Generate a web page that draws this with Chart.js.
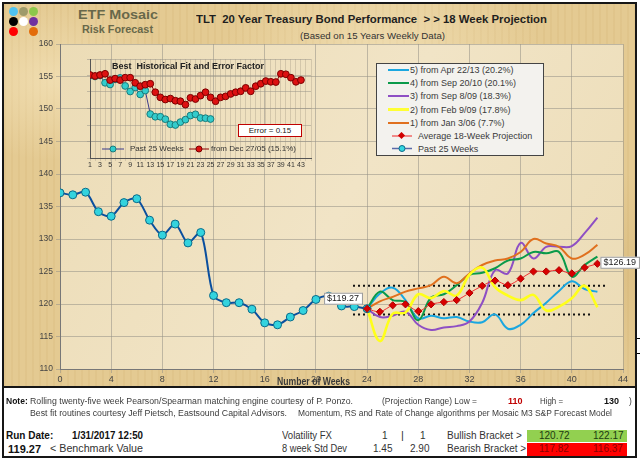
<!DOCTYPE html>
<html>
<head>
<meta charset="utf-8">
<script src="https://cdn.jsdelivr.net/npm/chart.js@4.4.0/dist/chart.umd.min.js"></script>
<style>
body { margin: 0; background: #fff; font-family: "Liberation Sans", Arial, sans-serif; }
#page { position: relative; width: 640px; height: 461px; overflow: hidden; background: #fff; }
#panel {
  position: absolute; left: 2px; top: 2px; width: 631px; height: 384px;
  border: 2px solid #161616;
  background:
    radial-gradient(ellipse 120px 80px at 8% 20%, rgba(250,236,200,0.55), transparent),
    radial-gradient(ellipse 160px 90px at 60% 12%, rgba(250,238,205,0.5), transparent),
    radial-gradient(ellipse 140px 100px at 95% 70%, rgba(205,170,105,0.35), transparent),
    repeating-linear-gradient(90deg, rgba(190,150,80,0.10) 0 2px, transparent 2px 7px),
    #e4ca92;
}
#table {
  position: absolute; left: 2px; top: 386px; width: 631px; height: 68px;
  border: 2px solid #161616; background: #fff;
}
canvas { position: absolute; }
.t { position: absolute; white-space: nowrap; line-height: 1; transform-origin: left center; }
.dot { position: absolute; width: 9px; height: 9px; border-radius: 50%; }
#legend {
  position: absolute; left: 376px; top: 63px; width: 166px; height: 91px;
  border: 1px solid #444; background: #f3f2ee;
}
.lg { position: absolute; left: 0; height: 12px; width: 166px; font-size: 9px; color: #3a3a3a; }
.lg .sw { position: absolute; left: 11px; top: 5px; width: 21px; height: 2px; }
.lg span { position: absolute; top: 1px; }
.small { font-size: 8.5px; color: #3b3b3b; }
.cell { position: absolute; font-size: 10px; }
</style>
</head>
<body>
<div id="page">
  <div id="panel"></div>
  <div id="table"></div>

  <!-- logo dots -->
  <div class="dot" style="left:9px;top:7px;background:#4fc3f0"></div>
  <div class="dot" style="left:19px;top:7px;background:#9e9a6a"></div>
  <div class="dot" style="left:29px;top:7px;background:#8cc84b"></div>
  <div class="dot" style="left:9px;top:17px;background:#000"></div>
  <div class="dot" style="left:19px;top:17px;background:#fff"></div>
  <div class="dot" style="left:29px;top:17px;background:#7030a0"></div>
  <div class="dot" style="left:9px;top:27px;background:#f00"></div>
  <div class="dot" style="left:29px;top:27px;background:#e36c0a"></div>

  <div class="t" data-w="80" style="left:78px;top:8px;font-size:13.5px;font-weight:bold;color:#68684a">ETF Mosaic</div>
  <div class="t" data-w="71" style="left:82px;top:25px;font-size:10px;font-weight:bold;color:#68684a">Risk Forecast</div>
  <div class="t" data-w="351" style="left:196px;top:14px;font-size:11.5px;font-weight:bold;color:#1e1e1e">TLT&nbsp; 20 Year Treasury Bond Performance&nbsp; &gt; &gt; 18 Week Projection</div>
  <div class="t" data-w="145" style="left:300px;top:32px;font-size:8.5px;color:#333">(Based on 15 Years Weekly Data)</div>

  <canvas id="main" width="640" height="388" style="left:0;top:0"></canvas>
  <canvas id="inset" width="236" height="118" style="left:80px;top:52px"></canvas>

  <div class="t" style="left:112px;top:62px;font-size:9px;font-weight:bold;color:#222">Best&nbsp; Historical Fit and Error Factor</div>
  <div class="t" style="left:238px;top:124px;width:62px;height:11px;border:1.5px solid #c00000;background:#fff;font-size:8px;color:#222;text-align:center;line-height:11px">Error = 0.15</div>
  <svg style="position:absolute;left:102px;top:145px" width="22" height="8"><line x1="0" y1="4" x2="22" y2="4" stroke="#3a3a8a" stroke-width="1"/><circle cx="11" cy="4" r="3" fill="#33cccc" stroke="#1a7a7a"/></svg>
  <div class="t" style="left:130px;top:145px;font-size:8px;color:#333">Past 25 Weeks</div>
  <svg style="position:absolute;left:189px;top:145px" width="20" height="8"><line x1="0" y1="4" x2="20" y2="4" stroke="#8b0000" stroke-width="1"/><circle cx="10" cy="4" r="3" fill="#dd1111" stroke="#7a0000"/></svg>
  <div class="t" style="left:211px;top:145px;font-size:8px;color:#333">from Dec 27/05 (15.1%)</div>

  <div id="legend"></div>

  <div class="t" data-w="73" style="left:277px;top:377px;font-size:10px;font-weight:bold;color:#3a3a3a">Number of Weeks</div>
  <div style="position:absolute;left:637px;top:338px;width:3px;height:1px;background:#000"></div>
  <div style="position:absolute;left:637px;top:353px;width:3px;height:1px;background:#000"></div>

  <!-- bottom table -->
  <div class="t" style="left:6px;top:397px;font-size:8.5px;font-weight:bold;color:#111">Note:</div>
  <div class="t small" data-w="323" style="left:30px;top:397px">Rolling twenty-five week Pearson/Spearman matching engine courtesy of P. Ponzo.</div>
  <div class="t small" data-w="95" style="left:382px;top:397px">(Projection Range) Low =</div>
  <div class="t" style="left:508px;top:397px;font-size:9px;font-weight:bold;color:#c00000">110</div>
  <div class="t small" data-w="23" style="left:540px;top:397px">High =</div>
  <div class="t" style="left:604px;top:397px;font-size:9px;font-weight:bold;color:#111">130</div>
  <div class="t small" style="left:629px;top:397px">)</div>
  <div class="t small" data-w="257" style="left:30px;top:409px">Best fit routines courtesy Jeff Pietsch, Eastsound Capital Advisors.</div>
  <div class="t small" data-w="314" style="left:298px;top:409px">Momentum, RS and Rate of Change algorithms per Mosaic M3 S&amp;P Forecast Model</div>

  <div class="t" style="left:6px;top:431px;font-size:10px;font-weight:bold;color:#111">Run Date:</div>
  <div class="t" data-w="71" style="left:72px;top:431px;font-size:10px;font-weight:bold;color:#111">1/31/2017 12:50</div>
  <div class="t" style="left:8px;top:444px;font-size:11px;font-weight:bold;color:#111">119.27</div>
  <div class="t" data-w="93" style="left:50px;top:444px;font-size:10px;color:#333">&lt; Benchmark Value</div>
  <div class="t" data-w="50" style="left:282px;top:431px;font-size:10px;color:#333">Volatility FX</div>
  <div class="t" style="left:382px;top:431px;font-size:10px;color:#333">1</div>
  <div class="t" style="left:401px;top:430px;font-size:11px;color:#333">|</div>
  <div class="t" style="left:420px;top:431px;font-size:10px;color:#333">1</div>
  <div class="t" data-w="65" style="left:282px;top:444px;font-size:10px;color:#333">8 week Std Dev</div>
  <div class="t" style="left:373px;top:444px;font-size:10px;color:#333">1.45</div>
  <div class="t" style="left:410px;top:444px;font-size:10px;color:#333">2.90</div>
  <div class="t" style="left:447px;top:431px;font-size:10px;color:#333">Bullish Bracket &gt;</div>
  <div class="t" style="left:447px;top:444px;font-size:10px;color:#333">Bearish Bracket &gt;</div>
  <div class="cell" style="left:527px;top:430px;width:100px;height:12px;background:#92d050"></div>
  <div class="cell" style="left:527px;top:443px;width:100px;height:13px;background:#ff0000"></div>
  <div class="t" style="left:539px;top:431px;font-size:10px;color:#1c3a10">120.72</div>
  <div class="t" style="left:593px;top:431px;font-size:10px;color:#1c3a10">122.17</div>
  <div class="t" style="left:539px;top:444px;font-size:10px;color:#8a0000">117.82</div>
  <div class="t" style="left:593px;top:444px;font-size:10px;color:#8a0000">116.37</div>
</div>

<script>
// past 25 weeks (week 0..24)
const pastWeeks = [0, 1, 2, 3, 4, 5, 6, 7, 8, 9, 10, 11, 12, 13, 14, 15, 16, 17, 18, 19, 20, 21, 22, 23, 24];
const pastPrice = [137.1, 136.8, 137.2, 134.2, 133.5, 135.6, 136.2, 132.9, 130.6, 132.3, 129.4, 131.0, 121.3,
                   120.2, 120.2, 119.2, 117.1, 116.8, 118.0, 119.0, 120.7, 121.2, 119.7, 119.6, 119.27];

// projection weeks 24..42
const projWeeks = [24, 25, 26, 27, 28, 29, 30, 31, 32, 33, 34, 35, 36, 37, 38, 39, 40, 41, 42];
const proj5 = [119.27, 121.6, 122.5, 120.6, 117.8, 118.2, 117.8, 118.0, 117.3, 117.2, 118.4, 116.2, 116.8, 118.6, 120.2, 122.0, 123.5, 122.3, 121.9];
const proj4 = [119.27, 121.9, 120.6, 120.3, 117.5, 121.0, 121.5, 122.9, 124.5, 124.8, 125.5, 126.7, 127.0, 128.0, 127.8, 128.0, 124.2, 126.0, 127.3];
const proj3 = [119.27, 118.0, 118.2, 118.8, 116.8, 116.0, 116.4, 116.6, 117.3, 120.2, 125.2, 124.7, 129.4, 127.0, 128.8, 128.8, 128.9, 130.9, 133.3];
const proj2 = [119.27, 114.3, 118.5, 118.7, 121.5, 120.9, 122.0, 121.3, 124.5, 125.6, 122.6, 121.3, 120.6, 121.4, 119.0, 119.6, 120.9, 122.8, 119.5];
const proj1 = [119.27, 120.4, 121.1, 121.9, 122.4, 122.9, 124.2, 123.2, 124.7, 126.0, 126.7, 127.0, 128.0, 130.0, 129.3, 128.8, 127.0, 127.6, 129.1];
const avgProj = [119.27, 118.8, 119.8, 119.95, 118.9, 119.95, 120.3, 120.6, 121.7, 122.8, 123.6, 122.9, 123.9, 125.0, 125.0, 125.2, 124.7, 125.6, 126.19];

// dotted range lines
const upperBandWeeks = [22.9, 42.7];
const upperBand = [122.8, 122.8];
const lowerBandWeeks = [22.9, 41.6];
const lowerBand = [118.4, 118.4];

// inset: best historical fit (weeks 1..43)
const fitWeeks = [1, 2, 3, 4, 5, 6, 7, 8, 9, 10, 11, 12, 13, 14, 15, 16, 17, 18, 19, 20, 21, 22,
                  23, 24, 25, 26, 27, 28, 29, 30, 31, 32, 33, 34, 35, 36, 37, 38, 39, 40, 41, 42, 43];
const fitPrice = [137.4, 137.0, 137.4, 137.9, 135.3, 135.9, 135.3, 136.3, 136.3, 134.2, 132.8, 133.4, 133.8,
                  130.3, 128.2, 127.3, 127.7, 126.8, 126.6, 125.2, 128.0, 127.5, 128.9, 130.3, 128.2, 126.6,
                  128.2, 128.6, 129.6, 130.3, 130.7, 132.1, 130.7, 132.8, 133.8, 134.9, 134.6, 134.5, 137.9,
                  137.7, 136.3, 134.6, 135.3];

const yTicks = [110, 115, 120, 125, 130, 135, 140, 145, 150, 155, 160];
const xTicks = [0, 4, 8, 12, 16, 20, 24, 28, 32, 36, 40, 44];

const legendItems = [
  { label: "5)  from Apr 22/13 (20.2%)", color: "#1aa7e0" },
  { label: "4)  from Sep 20/10 (20.1%)", color: "#0a9a4a" },
  { label: "3)  from Sep 8/09 (18.3%)", color: "#8e4fc4" },
  { label: "2)  from Feb 9/09 (17.8%)", color: "#ffff33" },
  { label: "1)  from Jan 3/06 (7.7%)", color: "#e0701e" }
];

function pts(xs, ys) {
    return xs.map((x, i) => ({ x: x, y: ys[i] }));
}

// stretch text to the widths measured on the picture
document.querySelectorAll("[data-w]").forEach(el => {
    const w = el.getBoundingClientRect().width;
    el.style.transform = "scaleX(" + (parseFloat(el.dataset.w) / w) + ")";
});

// build the legend box
const legend = document.getElementById("legend");
legendItems.forEach((item, i) => {
    const row = document.createElement("div");
    row.className = "lg";
    row.style.top = (i * 13.2) + "px";
    row.innerHTML = '<div class="sw" style="background:' + item.color + (item.color === "#ffff33" ? ';height:3px;top:4px' : '') +
        '"></div><span style="left:33px">' + item.label + '</span>';
    legend.appendChild(row);
});
const avgRow = document.createElement("div");
avgRow.className = "lg";
avgRow.style.top = (5 * 13.2) + "px";
avgRow.innerHTML = '<svg style="position:absolute;left:15px;top:2px" width="20" height="8"><line x1="0" y1="4" x2="20" y2="4" stroke="#ee2222" stroke-width="1"/><rect x="7" y="1" width="5" height="5" transform="rotate(45 9.5 3.5)" fill="#d00000"/></svg><span style="left:41px">Average 18-Week Projection</span>';
legend.appendChild(avgRow);
const pastRow = document.createElement("div");
pastRow.className = "lg";
pastRow.style.top = (6 * 13.2) + "px";
pastRow.innerHTML = '<svg style="position:absolute;left:15px;top:1px" width="20" height="9"><line x1="0" y1="4.5" x2="20" y2="4.5" stroke="#5a6aa8" stroke-width="1.5"/><circle cx="10" cy="4.5" r="3" fill="#33d6e0" stroke="#0a6b8a"/></svg><span style="left:41px">Past 25 Weeks</span>';
legend.appendChild(pastRow);

// light plot area fill
const plotBg = {
    id: "plotBg",
    beforeDraw(chart, args, opts) {
        const { ctx, chartArea: a } = chart;
        ctx.save();
        const g = ctx.createLinearGradient(a.left, a.top, a.right, a.bottom);
        g.addColorStop(0, opts.c1);
        g.addColorStop(0.5, opts.c2);
        g.addColorStop(1, opts.c1);
        ctx.fillStyle = g;
        ctx.fillRect(a.left, a.top, a.width, a.height);
        ctx.restore();
    }
};

// price tags next to the benchmark and final average point
const priceTags = {
    id: "priceTags",
    afterDatasetsDraw(chart) {
        const ctx = chart.ctx;
        const first = chart.getDatasetMeta(1).data[pastPrice.length - 1];
        const last = chart.getDatasetMeta(0).data[avgProj.length - 1];
        ctx.save();
        ctx.font = "9px 'Liberation Sans', Arial, sans-serif";
        ctx.textBaseline = "middle";
        const tag = (txt, x, y) => {
            const w = ctx.measureText(txt).width + 6;
            ctx.fillStyle = "#fff";
            ctx.fillRect(x, y - 6, w, 12);
            ctx.strokeStyle = "#9a9a9a";
            ctx.lineWidth = 1;
            ctx.strokeRect(x + 0.5, y - 5.5, w, 11);
            ctx.fillStyle = "#222";
            ctx.fillText(txt, x + 3, y);
        };
        tag("$" + pastPrice[pastPrice.length - 1].toFixed(2), first.x - 43, first.y - 10);
        tag("$" + avgProj[avgProj.length - 1].toFixed(2), last.x + 3, last.y - 1);
        ctx.restore();
    }
};

const projLine = (data, color, width) => ({
    data: data, borderColor: color, borderWidth: width || 2, pointRadius: 0,
    tension: 0.4, fill: false
});

new Chart(document.getElementById("main"), {
    type: "line",
    data: {
        datasets: [
            {
                data: pts(projWeeks, avgProj), borderColor: "#f03030", borderWidth: 1, tension: 0.3,
                pointStyle: "rectRot", pointRadius: 3.6, pointBackgroundColor: "#d80000", pointBorderColor: "#b00000"
            },
            {
                data: pts(pastWeeks, pastPrice), borderColor: "#0b4f9e", borderWidth: 2, tension: 0.3,
                pointRadius: 4, pointBackgroundColor: "#33d3de", pointBorderColor: "#0a6b8a", pointBorderWidth: 1
            },
            projLine(pts(projWeeks, proj2), "#ffff1a", 2.6),
            projLine(pts(projWeeks, proj1), "#e0701e"),
            projLine(pts(projWeeks, proj4), "#0a9a4a"),
            projLine(pts(projWeeks, proj3), "#8e4fc4"),
            projLine(pts(projWeeks, proj5), "#1aa7e0"),
            {
                data: pts(upperBandWeeks, upperBand), borderColor: "#111", borderWidth: 2,
                borderDash: [2, 3], pointRadius: 0
            },
            {
                data: pts(lowerBandWeeks, lowerBand), borderColor: "#111", borderWidth: 2,
                borderDash: [2, 3], pointRadius: 0
            }
        ]
    },
    options: {
        responsive: false,
        animation: false,
        layout: { padding: { left: 0, right: 17, top: 44, bottom: 5 } },
        plugins: {
            legend: { display: false },
            tooltip: { enabled: false },
            plotBg: { c1: "#ecdcb6", c2: "#f1e4c6" }
        },
        scales: {
            x: {
                type: "linear", min: 0, max: 44,
                afterBuildTicks: (s) => { s.ticks = xTicks.map(v => ({ value: v })); },
                afterFit: (s) => { s.height = 14; },
                grid: { color: "rgba(150,145,135,0.55)", tickLength: 4 },
                border: { color: "#777" },
                ticks: { color: "#444", font: { size: 9, family: "'Liberation Sans', Arial" }, padding: 1 }
            },
            y: {
                min: 110, max: 160,
                afterBuildTicks: (s) => { s.ticks = yTicks.map(v => ({ value: v })); },
                afterFit: (s) => { s.width = 60; },
                grid: { color: "rgba(150,145,135,0.55)", tickLength: 4 },
                border: { color: "#777" },
                ticks: { color: "#444", font: { size: 8.5, family: "'Liberation Sans', Arial" }, padding: 3 }
            }
        }
    },
    plugins: [plotBg, priceTags]
});

// inset chart
const insetMin = 103.2, insetStep = 6.8;
new Chart(document.getElementById("inset"), {
    type: "line",
    data: {
        datasets: [
            {
                data: pts(fitWeeks, fitPrice), borderColor: "#8b0000", borderWidth: 1,
                pointRadius: 3.4, pointBackgroundColor: "#dd1111", pointBorderColor: "#7a0000", pointBorderWidth: 1
            },
            {
                data: pts(pastWeeks.map(w => w + 1), pastPrice), borderColor: "#3a3a8a", borderWidth: 1,
                pointRadius: 3.4, pointBackgroundColor: "#33cccc", pointBorderColor: "#1a7a7a", pointBorderWidth: 1
            }
        ]
    },
    options: {
        responsive: false,
        animation: false,
        layout: { padding: { left: 0, right: 3, top: 7, bottom: 0 } },
        plugins: { legend: { display: false }, tooltip: { enabled: false } },
        scales: {
            x: {
                type: "linear", min: 1, max: 45,
                afterBuildTicks: (s) => { s.ticks = fitWeeks.concat([44, 45]).map(v => ({ value: v })); },
                afterFit: (s) => { s.height = 12; },
                grid: { color: "rgba(160,150,130,0.35)", tickLength: 3 },
                border: { color: "#555" },
                ticks: {
                    color: "#333", font: { size: 7, family: "'Liberation Sans', Arial" }, padding: 0,
                    autoSkip: false, maxRotation: 0,
                    callback: (v) => (v % 2 === 1 && v <= 43 ? v : "")
                }
            },
            y: {
                min: insetMin, max: insetMin + 6 * insetStep,
                afterBuildTicks: (s) => { s.ticks = [0, 1, 2, 3, 4, 5, 6].map(i => ({ value: insetMin + i * insetStep })); },
                afterFit: (s) => { s.width = 10; },
                grid: { color: "rgba(150,145,135,0.5)", tickLength: 3 },
                border: { color: "#555" },
                ticks: { display: false }
            }
        }
    }
});
</script>
</body>
</html>
